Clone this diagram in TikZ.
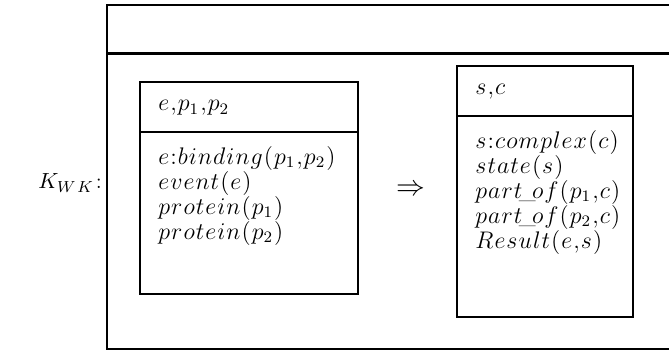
\documentclass[tikz,border=0pt]{standalone}
\usepackage{amsmath}
\usepackage{tikz}
\usetikzlibrary{positioning}

% spaced-out math italic, one item per token or brace group
\makeatletter
\newcommand\drs[1]{\@tfor\drs@c:=#1\do{\drs@c\mkern0.8mu}}
\makeatother

\begin{document}
\begin{tikzpicture}[
    x=0.5pt, y=-0.5pt,
    frame/.style={line width=1pt},
    drsline/.style={line width=1.2pt},
    cond/.style={anchor=west, align=left, inner sep=0pt, font=\fontsize{11.5}{12.5}\selectfont},
]
    \useasboundingbox (0,0) rectangle (669,352);
    \clip (0,0) rectangle (669,352);

    % outer frame, open on the right
    \draw[frame] (700,5) -- (107,5) -- (107,349) -- (700,349);
    \draw[line width=1.5pt] (107,54) -- (700,54);

    % label
    \node[anchor=west, inner sep=0pt, font=\fontsize{11}{12}\selectfont] (kwk) at (38,183) {$K_{W\mkern2mu K}$\kern1pt:};

    % left box
    \draw[drsline] (140,82) rectangle (358,294);
    \draw[drsline] (140,132) -- (358,132);
    \node[cond] (lhead) at (158,108) {$\drs{e{{,}}{p_1}{{,}}{p_2}}$};
    \node[cond, below=15pt of lhead.south west, anchor=north west] (lbody) {%
        $\drs{e{{:}}binding({p_1}{{,}}{p_2})}$\\
        $\drs{event(e)}$\\
        $\drs{protein({p_1})}$\\
        $\drs{protein({p_2})}$};

    % implication
    \node[font=\fontsize{15}{15}\selectfont] (impl) at (411,190) {$\Rightarrow$};

    % right box
    \draw[drsline] (457,66) rectangle (633,317);
    \draw[drsline] (457,116) -- (633,116);
    \node[cond] (rhead) at (475,92) {$\drs{s{{,}}c}$};
    \node[cond, below=15pt of rhead.south west, anchor=north west] (rbody) {%
        $\drs{s{{:}}complex(c)}$\\
        $\drs{state(s)}$\\
        $\drs{part{\mkern-3.5mu\_\mkern-3.5mu}of({p_1}{{,}}c)}$\\
        $\drs{part{\mkern-3.5mu\_\mkern-3.5mu}of({p_2}{{,}}c)}$\\
        $\drs{Result(e{{,}}s)}$};
\end{tikzpicture}
\end{document}
